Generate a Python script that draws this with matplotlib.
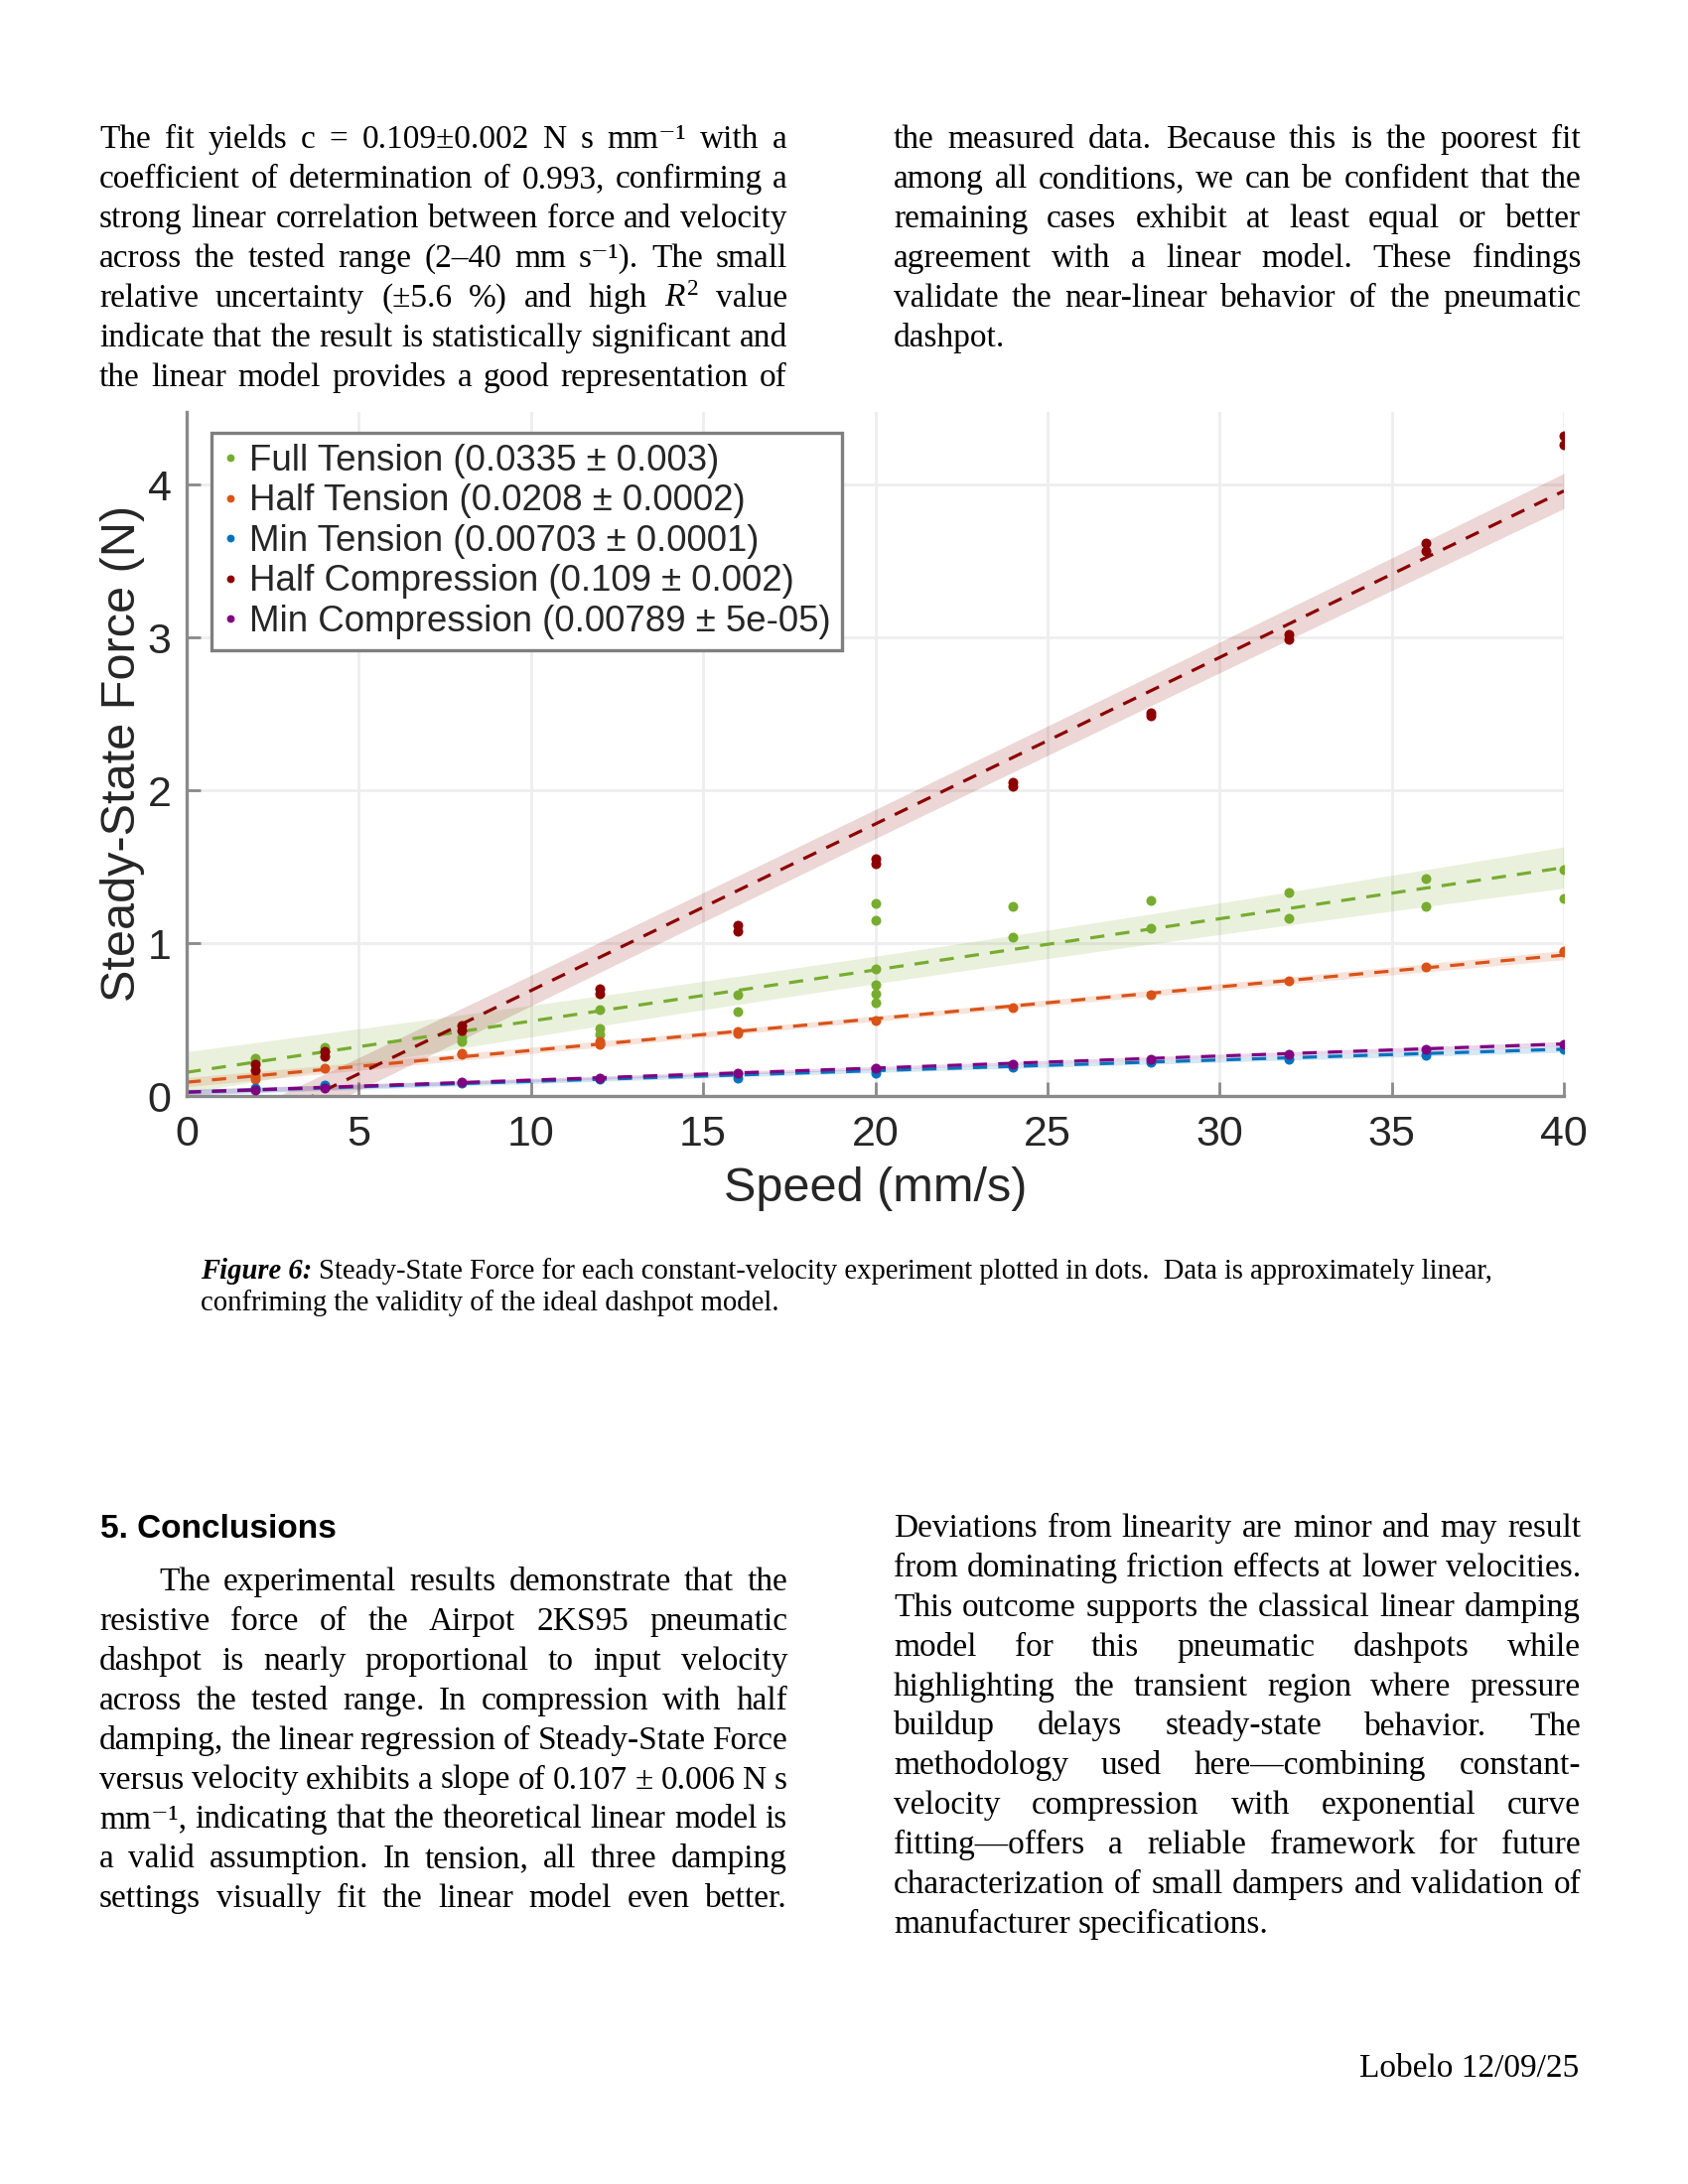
import matplotlib
matplotlib.use("Agg")
import matplotlib.pyplot as plt
import numpy as np
from matplotlib.lines import Line2D

W, H, DPI = 1700, 2200, 200

plt.rcParams["mathtext.fontset"] = "custom"
plt.rcParams["mathtext.rm"] = "Liberation Serif"
plt.rcParams["mathtext.it"] = "Liberation Serif:italic"

SERIF = ["Liberation Serif", "DejaVu Serif"]
SANS = ["Liberation Sans", "DejaVu Sans"]

# ---------------- chart data ----------------
names = ["Full Tension", "Half Tension", "Min Tension", "Half Compression", "Min Compression"]
slope_labels = ["0.0335 ± 0.003", "0.0208 ± 0.0002", "0.00703 ± 0.0001",
                "0.109 ± 0.002", "0.00789 ± 5e-05"]
colors = ["#77AC30", "#D95319", "#0072BD", "#8B0000", "#800080"]

full_tension_x = [2, 2, 4, 4, 8, 8, 12, 12, 12, 16, 16, 20, 20, 20, 20, 20, 20,
                  24, 24, 28, 28, 32, 32, 36, 36, 40, 40]
full_tension_y = [0.245, 0.22, 0.32, 0.29, 0.385, 0.36, 0.565, 0.44, 0.40, 0.66, 0.553,
                  1.26, 1.15, 0.83, 0.73, 0.67, 0.61, 1.24, 1.04, 1.28, 1.10,
                  1.33, 1.16, 1.42, 1.24, 1.48, 1.29]

half_tension_x = [2, 2, 4, 8, 8, 12, 12, 16, 16, 20, 24, 28, 32, 36, 40, 40]
half_tension_y = [0.13, 0.11, 0.185, 0.28, 0.27, 0.355, 0.34, 0.42, 0.41,
                  0.495, 0.58, 0.665, 0.755, 0.845, 0.95, 0.94]

min_tension_x = [2, 4, 8, 12, 16, 20, 24, 28, 32, 36, 40]
min_tension_y = [0.05, 0.07, 0.085, 0.11, 0.12, 0.15, 0.19, 0.22, 0.24, 0.265, 0.305]

half_comp_x = [2, 2, 4, 4, 8, 8, 12, 12, 16, 16, 20, 20, 24, 24, 28, 28, 32, 32, 36, 36, 40, 40]
half_comp_y = [0.21, 0.17, 0.29, 0.26, 0.46, 0.43, 0.70, 0.67, 1.12, 1.08, 1.55, 1.52,
               2.05, 2.03, 2.51, 2.49, 3.02, 2.99, 3.62, 3.57, 4.32, 4.26]

min_comp_x = [2, 4, 8, 12, 16, 20, 24, 28, 32, 36, 40]
min_comp_y = [0.04, 0.055, 0.09, 0.115, 0.15, 0.18, 0.205, 0.24, 0.273, 0.305, 0.34]

# linear fits: slope, intercept, confidence half-width at mid range and at the ends
fit_slope = [0.0335, 0.0208, 0.00703, 0.109, 0.00789]
fit_intercept = [0.155, 0.09, 0.025, -0.40, 0.025]
band_mid = [0.09, 0.018, 0.012, 0.095, 0.010]
band_end = [0.135, 0.03, 0.02, 0.115, 0.016]

xs_data = [full_tension_x, half_tension_x, min_tension_x, half_comp_x, min_comp_x]
ys_data = [full_tension_y, half_tension_y, min_tension_y, half_comp_y, min_comp_y]

x_ticks = [0, 5, 10, 15, 20, 25, 30, 35, 40]
y_ticks = [0, 1, 2, 3, 4]

# ---------------- page text ----------------
top_left = [
    "The fit yields c = 0.109±0.002 N s mm⁻¹  with a",
    "coefficient of determination of 0.993, confirming a",
    "strong linear correlation between force and velocity",
    "across the tested range (2–40 mm s⁻¹). The small",
    "relative uncertainty (±5.6 %) and high $R^2$ value",
    "indicate that the result is statistically significant and",
    "the linear model provides a good representation of",
]
top_right = [
    "the measured data. Because this is the poorest fit",
    "among all conditions, we can be confident that the",
    "remaining cases exhibit at least equal or better",
    "agreement with a linear model. These findings",
    "validate the near-linear behavior of the pneumatic",
    "dashpot.",
]
bottom_left = [
    "The experimental results demonstrate that the",
    "resistive force of the Airpot 2KS95 pneumatic",
    "dashpot is nearly proportional to input velocity",
    "across the tested range. In compression with half",
    "damping, the linear regression of Steady-State Force",
    "versus velocity exhibits a slope of 0.107 ± 0.006 N s",
    "mm⁻¹, indicating that the theoretical linear model is",
    "a valid assumption. In tension, all three damping",
    "settings visually fit the linear model even better.",
]
bottom_right = [
    "Deviations from linearity are minor and may result",
    "from dominating friction effects at lower velocities.",
    "This outcome supports the classical linear damping",
    "model for this pneumatic dashpots while",
    "highlighting the transient region where pressure",
    "buildup delays steady-state behavior. The",
    "methodology used here—combining constant-",
    "velocity compression with exponential curve",
    "fitting—offers a reliable framework for future",
    "characterization of small dampers and validation of",
    "manufacturer specifications.",
]
caption_lead = "Figure 6:"
caption_lines = [
    "Steady-State Force for each constant-velocity experiment plotted in dots.  Data is approximately linear,",
    "confriming the validity of the ideal dashpot model.",
]

fig = plt.figure(figsize=(W / DPI, H / DPI), dpi=DPI)
renderer = fig.canvas.get_renderer()


def fxy(x, y):
    return x / W, 1 - y / H


# ---------------- chart ----------------
ax_top, ax_bot, ax_l, ax_r = 414.5, 1104, 188, 1575
ax = fig.add_axes([ax_l / W, 1 - ax_bot / H, (ax_r - ax_l) / W, (ax_bot - ax_top) / H])

xx = np.linspace(0, 40, 200)
for i in range(5):
    fit = fit_slope[i] * xx + fit_intercept[i]
    hw = np.sqrt(band_mid[i] ** 2 + (band_end[i] ** 2 - band_mid[i] ** 2) * ((xx - 20) / 20) ** 2)
    ax.fill_between(xx, fit - hw, fit + hw, color=colors[i], alpha=0.16, lw=0, zorder=1)
for i in range(5):
    ax.plot([0, 40], [fit_intercept[i], fit_slope[i] * 40 + fit_intercept[i]],
            color=colors[i], lw=1.15, dashes=(4.5, 3.5), zorder=2)
for i in range(5):
    ax.plot(xs_data[i], ys_data[i], ls="none", marker="o", ms=3.6, mew=0,
            color=colors[i], zorder=3)

ax.set_xlim(0, 40)
ax.set_ylim(0, 4.48)
ax.set_xticks(x_ticks)
ax.set_yticks(y_ticks)
ax.grid(True, color="#EEEEEE", lw=1.0)
ax.set_axisbelow(True)
for s in ["top", "right"]:
    ax.spines[s].set_visible(False)
for s in ["left", "bottom"]:
    ax.spines[s].set_color("#8a8a8a")
    ax.spines[s].set_linewidth(1.2)
ax.tick_params(direction="in", length=5, width=1.0, color="#8a8a8a",
               labelsize=15.5, labelcolor="#262626")
ax.tick_params(axis="x", pad=7)
ax.tick_params(axis="y", pad=5.5)
for lab in ax.get_xticklabels() + ax.get_yticklabels():
    lab.set_family(SANS)
ax.set_xlabel("Speed (mm/s)", fontsize=17.5, family=SANS, color="#262626", labelpad=4)
ax.set_ylabel("Steady-State Force (N)", fontsize=17.5, family=SANS, color="#262626", labelpad=1)

handles = [Line2D([], [], ls="none", marker="o", ms=2.8, mew=0, color=c) for c in colors]
labels = [f"{n} ({s})" for n, s in zip(names, slope_labels)]
leg = ax.legend(handles, labels, loc="upper left", bbox_to_anchor=(0.018, 0.969),
                borderaxespad=0, fancybox=False, framealpha=1, edgecolor="#7f7f7f",
                prop={"family": SANS, "size": 13.2}, handlelength=0.45, handletextpad=0.3,
                labelspacing=0.15, borderpad=0.3)
leg.get_frame().set_linewidth(1.2)
for t in leg.get_texts():
    t.set_color("#262626")


# ---------------- justified body text ----------------
def put_line(line, x0, x1, y, justify, size=12, indent=0):
    words = line.split()
    arts = [fig.text(0, 0, w, fontsize=size, family=SERIF, va="baseline", ha="left")
            for w in words]
    widths = [a.get_window_extent(renderer).width for a in arts]
    space = 0.25 * size * DPI / 72
    if justify and len(words) > 1:
        gap = (x1 - x0 - indent - sum(widths)) / (len(words) - 1)
    else:
        gap = space
    x = x0 + indent
    for a, w in zip(arts, widths):
        a.set_position(fxy(x, y))
        x += w + gap


def put_column(lines, x0, x1, y0, step, last_justified, first_indent=0):
    for k, line in enumerate(lines):
        last = k == len(lines) - 1
        put_line(line, x0, x1, y0 + k * step, justify=(not last) or last_justified,
                 indent=first_indent if k == 0 else 0)


LX0, LX1, RX0, RX1 = 100, 793, 900, 1592
put_column(top_left, LX0, LX1, 149, 40, True)
put_column(top_right, RX0, RX1, 149, 40, False)
put_column(bottom_left, LX0, LX1, 1602, 39.9, True, first_indent=60)
put_column(bottom_right, RX0, RX1, 1548, 39.9, False)

fig.text(*fxy(101, 1549), "5. Conclusions", fontsize=12, family=SANS, weight="bold",
         va="baseline", ha="left")

# caption
cap_size = 10.3
lead = fig.text(*fxy(202, 1288), caption_lead, fontsize=cap_size, family=SERIF,
                weight="bold", style="italic", va="baseline", ha="left")
lw_ = lead.get_window_extent(renderer).width
fig.text(*fxy(202 + lw_ + 0.25 * cap_size * DPI / 72, 1288), caption_lines[0],
         fontsize=cap_size, family=SERIF, va="baseline", ha="left")
fig.text(*fxy(202, 1320), caption_lines[1], fontsize=cap_size, family=SERIF,
         va="baseline", ha="left")

fig.text(*fxy(1590, 2092), "Lobelo 12/09/25", fontsize=12, family=SERIF,
         va="baseline", ha="right")

fig.savefig("out.png", dpi=DPI, facecolor="white")
